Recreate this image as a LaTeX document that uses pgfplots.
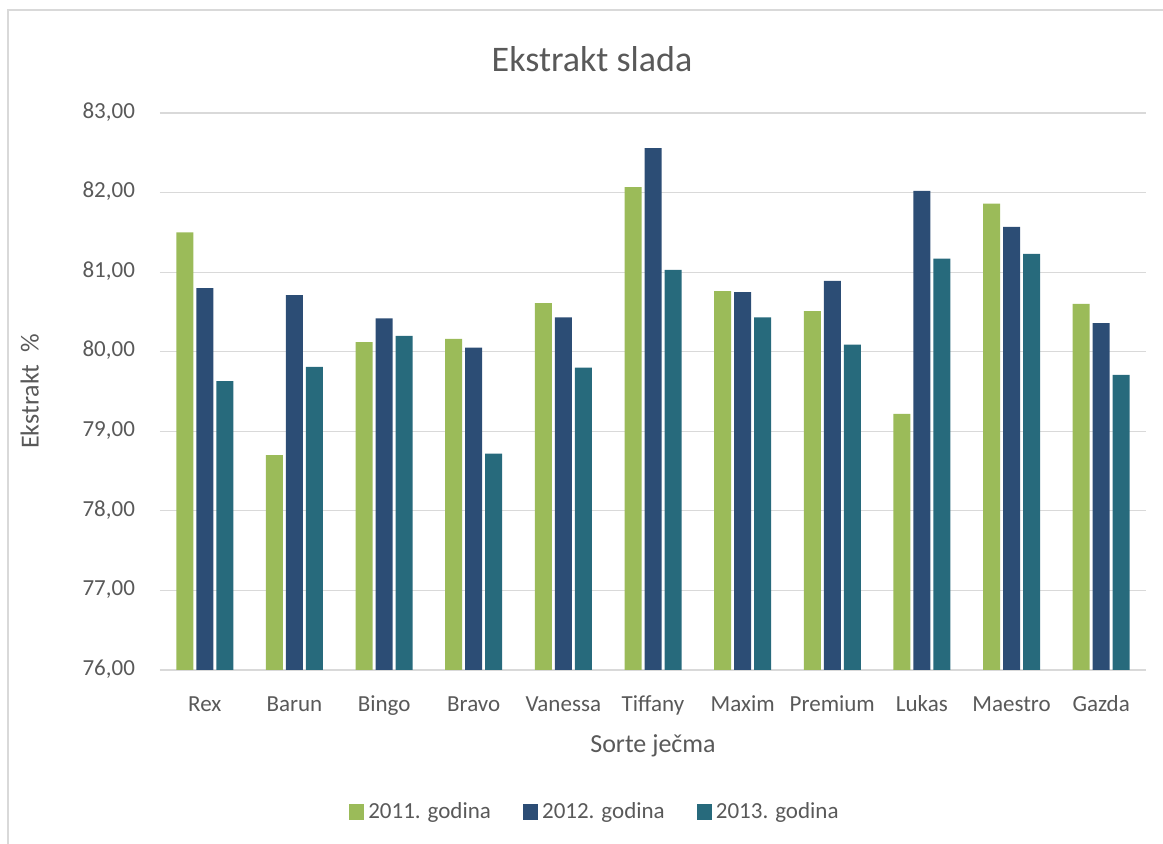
\documentclass[border=0pt]{standalone}
\usepackage{fontspec}
\setmainfont{Carlito}
\usepackage{pgfplots}
\pgfplotsset{compat=1.18}

\definecolor{txt}{HTML}{595959}
\definecolor{grd}{HTML}{D9D9D9}
\definecolor{gA}{HTML}{9BBB59}
\definecolor{bB}{HTML}{2C4D75}
\definecolor{tC}{HTML}{276A7C}

\begin{document}
\begin{tikzpicture}
% page 1163x844 px at 0.5pt per px
\path[use as bounding box] (0pt,0pt) rectangle (581.5pt,422pt);
\draw[grd, line width=0.6pt] (4pt,0pt) -- (4pt,417pt) -- (581.5pt,417pt);
\node[txt, font=\fontsize{18}{20}\selectfont] at (296pt,392.5pt) {Ekstrakt slada};

\begin{axis}[
    at={(80pt,87pt)}, anchor=south west,
    scale only axis, width=493pt, height=278.5pt,
    ybar=1.5pt, bar width=8.5pt,
    ymin=76, ymax=83, ytick={76,77,...,83},
    xmin=-0.5, xmax=10.5,
    xtick=data,
    xticklabels={Rex,Barun,Bingo,Bravo,Vanessa,Tiffany,Maxim,Premium,Lukas,Maestro,Gazda},
    typeset ticklabels with strut,
    axis line style={grd},
    axis y line*=left, axis x line*=bottom,
    y axis line style={draw=none},
    major tick length=0pt,
    ymajorgrids, grid style={grd, line width=0.6pt},
    tick label style={txt, font=\fontsize{11.5}{13}\selectfont},
    yticklabel style={xshift=-9pt},
    xticklabel style={yshift=-8pt},
    /pgf/number format/.cd, fixed, fixed zerofill, precision=2, use comma, assume math mode=true,
    /pgfplots/.cd,
    xlabel={Sorte ječma}, ylabel={Ekstrakt \ \%},
    label style={txt, font=\fontsize{13}{15}\selectfont},
    xlabel style={yshift=-1pt},
    ylabel style={yshift=15pt},
    legend style={at={(0.442,-71pt)}, anchor=center, draw=none, legend columns=3,
        font=\fontsize{11.5}{13}\selectfont, text=txt,
        /tikz/every even column/.append style={column sep=14pt}},
    legend image code/.code={\fill[#1] (0pt,-3.8pt) rectangle (7.6pt,3.8pt);},
    legend cell align=left,
]
\addplot[fill=gA, draw=none] coordinates {(0,81.50) (1,78.70) (2,80.12) (3,80.16) (4,80.61) (5,82.07) (6,80.76) (7,80.51) (8,79.22) (9,81.86) (10,80.60)};
\addplot[fill=bB, draw=none] coordinates {(0,80.80) (1,80.71) (2,80.42) (3,80.05) (4,80.43) (5,82.56) (6,80.75) (7,80.89) (8,82.02) (9,81.57) (10,80.36)};
\addplot[fill=tC, draw=none] coordinates {(0,79.63) (1,79.81) (2,80.20) (3,78.72) (4,79.80) (5,81.03) (6,80.43) (7,80.09) (8,81.17) (9,81.23) (10,79.71)};
\legend{2011. godina, 2012. godina, 2013. godina}
\end{axis}
\end{tikzpicture}
\end{document}
